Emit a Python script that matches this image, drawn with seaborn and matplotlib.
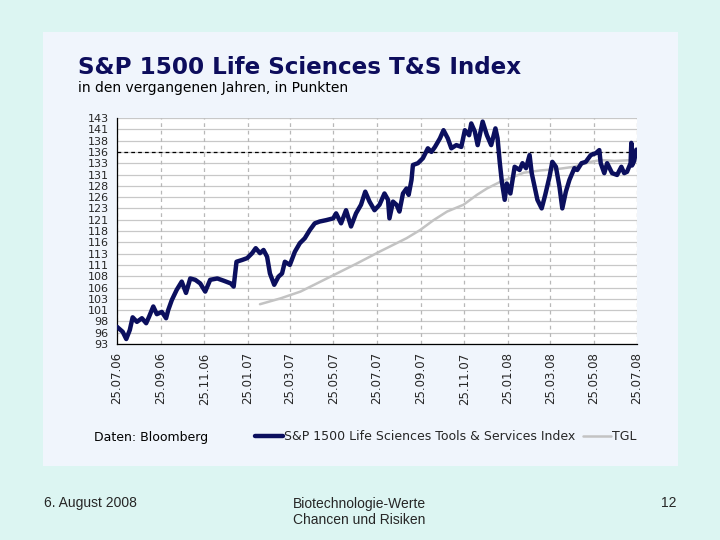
import pandas as pd
import matplotlib.pyplot as plt
import matplotlib.dates as mdates
import matplotlib.patches as mpatches
import seaborn as sns

# Index values (date, points)
index_dates = [
    "2006-07-25", "2006-08-02", "2006-08-07", "2006-08-12", "2006-08-16", "2006-08-22",
    "2006-08-29", "2006-09-04", "2006-09-08", "2006-09-14", "2006-09-19", "2006-09-26",
    "2006-10-02", "2006-10-05", "2006-10-10", "2006-10-17", "2006-10-24", "2006-10-30",
    "2006-11-05", "2006-11-12", "2006-11-19", "2006-11-26", "2006-12-03", "2006-12-13",
    "2006-12-22", "2007-01-01", "2007-01-05", "2007-01-09", "2007-01-17", "2007-01-24",
    "2007-01-31", "2007-02-05", "2007-02-11", "2007-02-16", "2007-02-21", "2007-02-25",
    "2007-03-03", "2007-03-09", "2007-03-14", "2007-03-18", "2007-03-25", "2007-04-01",
    "2007-04-08", "2007-04-15", "2007-04-22", "2007-04-29", "2007-05-06", "2007-05-15",
    "2007-05-25", "2007-05-29", "2007-06-05", "2007-06-12", "2007-06-19", "2007-06-26",
    "2007-07-03", "2007-07-09", "2007-07-15", "2007-07-22", "2007-07-29", "2007-08-05",
    "2007-08-10", "2007-08-12", "2007-08-17", "2007-08-22", "2007-08-26", "2007-08-31",
    "2007-09-05", "2007-09-08", "2007-09-12", "2007-09-14", "2007-09-21", "2007-09-28",
    "2007-10-05", "2007-10-10", "2007-10-15", "2007-10-22", "2007-10-27", "2007-11-02",
    "2007-11-07", "2007-11-14", "2007-11-21", "2007-11-26", "2007-12-02", "2007-12-05",
    "2007-12-10", "2007-12-14", "2007-12-21", "2007-12-27", "2008-01-02", "2008-01-08",
    "2008-01-11", "2008-01-14", "2008-01-17", "2008-01-21", "2008-01-24", "2008-01-29",
    "2008-02-04", "2008-02-11", "2008-02-15", "2008-02-20", "2008-02-25", "2008-02-28",
    "2008-03-03", "2008-03-07", "2008-03-13", "2008-03-18", "2008-03-24", "2008-03-28",
    "2008-04-02", "2008-04-07", "2008-04-11", "2008-04-16", "2008-04-21", "2008-04-28",
    "2008-05-02", "2008-05-08", "2008-05-14", "2008-05-21", "2008-05-28", "2008-06-02",
    "2008-06-04", "2008-06-09", "2008-06-13", "2008-06-20", "2008-06-27", "2008-07-03",
    "2008-07-07", "2008-07-11", "2008-07-16", "2008-07-17", "2008-07-18", "2008-07-21",
    "2008-07-24",
]
index_values = [
    96.8, 95.7, 94.1, 96.1, 98.9, 97.9,
    98.7, 97.6, 99.0, 101.3, 99.6, 100.1,
    98.7, 100.5, 102.7, 105.0, 106.8, 104.3,
    107.5, 107.2, 106.4, 104.6, 107.2, 107.5,
    107.0, 106.4, 105.7, 111.2, 111.6, 112.0,
    113.1, 114.2, 113.1, 113.8, 112.3, 108.6,
    106.1, 107.9, 108.6, 111.2, 110.5, 113.4,
    115.3, 116.4, 118.2, 119.7, 120.1, 120.4,
    120.8, 121.9, 119.7, 122.6, 119.0, 121.9,
    123.8, 126.7, 124.5, 122.6, 123.8, 126.3,
    124.9, 120.8, 124.5, 123.8, 122.3, 126.3,
    127.4, 126.0, 129.3, 132.6, 133.0, 134.1,
    136.3, 135.5, 136.6, 138.5, 140.3, 138.5,
    136.3, 137.0, 136.6, 140.3, 139.2, 141.8,
    140.0, 137.0, 142.2, 139.2, 137.0, 140.7,
    138.5, 133.3, 128.9, 124.9, 128.5, 126.3,
    132.2, 131.5, 133.0, 131.9, 134.8, 130.8,
    127.8, 124.9, 123.0, 126.0, 130.0, 133.3,
    132.2, 127.8, 123.0, 126.7, 129.3, 131.9,
    131.5, 133.0, 133.3, 134.8, 135.2, 135.9,
    133.0, 130.8, 133.0, 130.8, 130.4, 132.2,
    130.8, 131.1, 133.0, 137.5, 132.5, 133.5,
    136.0,
]

# TGL (trend line) values
tgl_dates = [
    "2007-02-11", "2007-03-12", "2007-04-09", "2007-05-02", "2007-05-30", "2007-06-27",
    "2007-07-30", "2007-09-05", "2007-09-24", "2007-10-13", "2007-11-01", "2007-11-24",
    "2007-12-13", "2007-12-27", "2008-01-15", "2008-01-29", "2008-02-17", "2008-03-11",
    "2008-04-04", "2008-04-27", "2008-05-21", "2008-06-04", "2008-06-23", "2008-07-22",
]
tgl_values = [
    101.8, 103.1, 104.6, 106.4, 108.6, 110.8,
    113.5, 116.4, 118.2, 120.4, 122.3, 123.8,
    126.0, 127.4, 128.9, 129.7, 130.9, 131.4,
    131.7, 132.2, 133.3, 133.7, 133.5, 133.7,
]

last_level = 135.5

x_tick_dates = ["2006-07-25", "2006-09-25", "2006-11-25", "2007-01-25", "2007-03-25",
                "2007-05-25", "2007-07-25", "2007-09-25", "2007-11-25", "2008-01-25",
                "2008-03-25", "2008-05-25", "2008-07-25"]
y_tick_values = [93, 95.5, 98, 100.5, 103, 105.5, 108, 110.5, 113, 115.5, 118,
                 120.5, 123, 125.5, 128, 130.5, 133, 135.5, 138, 140.5, 143]
y_tick_labels = ["93", "96", "98", "101", "103", "106", "108", "111", "113", "116", "118",
                 "121", "123", "126", "128", "131", "133", "136", "138", "141", "143"]

df_index = pd.DataFrame({"Datum": pd.to_datetime(index_dates), "Punkte": index_values})
df_tgl = pd.DataFrame({"Datum": pd.to_datetime(tgl_dates), "Punkte": tgl_values})

sns.set_style("white")
plt.rcParams['font.family'] = ['DejaVu Sans']

navy = "#0b0f5e"
grey_line = "#c3c3c3"

fig = plt.figure(figsize=(7.2, 5.4), dpi=100)
fig.patch.set_facecolor("#dcf5f2")

# inner slide panel (behind the axes)
panel = mpatches.Rectangle((43 / 720, 1 - 466 / 540), (678 - 43) / 720, (466 - 32) / 540,
                           transform=fig.transFigure, facecolor="#f0f5fc", edgecolor="none",
                           zorder=-5)
fig.patches.append(panel)

ax = fig.add_axes([117 / 720, 1 - 344 / 540, 520 / 720, 226 / 540])
ax.set_facecolor("white")

# grid
for yv in y_tick_values:
    ax.axhline(yv, color="#c8c8c8", lw=0.9, zorder=1)
for d in x_tick_dates:
    ax.axvline(pd.Timestamp(d), color="#b8b8b8", lw=0.9, ls=(0, (3, 3)), zorder=1)
ax.axhline(last_level, color="black", lw=0.9, ls=(0, (3, 2.5)), zorder=2)

sns.lineplot(data=df_tgl, x="Datum", y="Punkte", ax=ax, color=grey_line, lw=1.8,
             label="TGL", zorder=3)
sns.lineplot(data=df_index, x="Datum", y="Punkte", ax=ax, color=navy, lw=3.2,
             label="S&P 1500 Life Sciences Tools & Services Index", zorder=4)

ax.set_xlim(pd.Timestamp(x_tick_dates[0]), pd.Timestamp(x_tick_dates[-1]))
ax.set_ylim(93, 143)
ax.set_yticks(y_tick_values)
ax.set_yticklabels(y_tick_labels, fontsize=8)
ax.set_xticks(pd.to_datetime(x_tick_dates))
ax.xaxis.set_major_formatter(mdates.DateFormatter("%d.%m.%y"))
plt.setp(ax.get_xticklabels(), rotation=90, fontsize=8.5)
ax.tick_params(axis="y", direction="out", length=4, width=0.8, color="black", pad=2)
ax.tick_params(axis="x", direction="inout", length=6, width=0.8, color="black", pad=3)
ax.set_xlabel("")
ax.set_ylabel("")
for side in ["top", "right"]:
    ax.spines[side].set_visible(False)
for side in ["left", "bottom"]:
    ax.spines[side].set_color("black")
    ax.spines[side].set_linewidth(0.9)

# legend in the index, TGL order
handles, labels = ax.get_legend_handles_labels()
leg = ax.legend(handles[::-1], labels[::-1], ncol=2, frameon=False, fontsize=9,
                loc="center left", bbox_to_anchor=(250 / 720, 1 - 437 / 540),
                bbox_transform=fig.transFigure, handlelength=2.2, handletextpad=0.15,
                columnspacing=0.6, borderaxespad=0)

fig.text(78 / 720, 1 - 68 / 540, "S&P 1500 Life Sciences T&S Index", fontsize=16.6,
         fontweight="bold", color="#0d0d5c", va="center", ha="left")
fig.text(78 / 720, 1 - 88 / 540, "in den vergangenen Jahren, in Punkten", fontsize=10,
         color="black", va="center", ha="left")
fig.text(94 / 720, 1 - 437 / 540, "Daten: Bloomberg", fontsize=9, color="black",
         va="center", ha="left")

fig.text(44 / 720, 1 - 503 / 540, "6. August 2008", fontsize=10, family="Liberation Sans",
         va="center", ha="left")
fig.text(293 / 720, 1 - 512 / 540, "Biotechnologie-Werte\nChancen und Risiken", fontsize=10,
         family="Liberation Sans", va="center", ha="left", linespacing=1.25)
fig.text(677 / 720, 1 - 503 / 540, "12", fontsize=10, family="Liberation Sans",
         va="center", ha="right")

fig.savefig("out.png", dpi=100, facecolor=fig.get_facecolor())
